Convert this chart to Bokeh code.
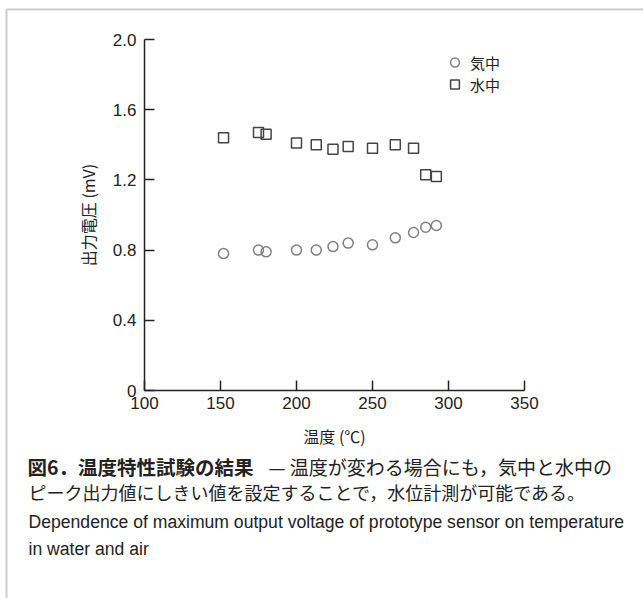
from bokeh.plotting import figure
from bokeh.models import (Range1d, FixedTicker, Legend, LegendItem, Label,
                          BoxAnnotation, PrintfTickFormatter)
from bokeh.embed import file_html
from bokeh.resources import INLINE

# Peak output voltage of the prototype sensor versus temperature
temperature = [152, 175, 180, 200, 213, 224, 234, 250, 265, 277, 285, 292]
voltage_air = [0.78, 0.80, 0.79, 0.80, 0.80, 0.82, 0.84, 0.83, 0.87, 0.90, 0.93, 0.94]
voltage_water = [1.44, 1.47, 1.46, 1.41, 1.40, 1.375, 1.39, 1.38, 1.40, 1.38, 1.23, 1.22]

series_names = ["気中", "水中"]
x_ticks = [100, 150, 200, 250, 300, 350]
y_ticks = [0, 0.4, 0.8, 1.2, 1.6, 2.0]
y_tick_labels = ["0", "0.4", "0.8", "1.2", "1.6", "2.0"]

x_title = "温度 (℃)"
y_title = "出力電圧 (mV)"
caption_bold = "図6．温度特性試験の結果"
caption_rest = "— 温度が変わる場合にも，気中と水中の"
caption_line2 = "ピーク出力値にしきい値を設定することで，水位計測が可能である。"
caption_en1 = "Dependence of maximum output voltage of prototype sensor on temperature"
caption_en2 = "in water and air"

W, H = 643, 598
INK = "#222222"
JP = "Noto Sans CJK JP"
LATIN = "Liberation Sans"

# The drawing area spans the whole page; the axes sit at fixed data
# positions so the caption block below the chart can share the canvas.
X0, X1 = 100, 350          # axis extent (°C)
Y0, Y1 = 0.0, 2.0          # axis extent (mV)
AX_LEFT, AX_RIGHT = 144, 524   # pixel columns of X0 / X1
AX_TOP, AX_BOTTOM = 39, 390    # pixel rows of Y1 / Y0
kx = (X1 - X0) / (AX_RIGHT - AX_LEFT)
ky = (Y1 - Y0) / (AX_BOTTOM - AX_TOP)
x_range = Range1d(X0 - AX_LEFT * kx, X1 + (W - AX_RIGHT) * kx)
y_range = Range1d(Y0 - (H - AX_BOTTOM) * ky, Y1 + AX_TOP * ky)

p = figure(width=W, height=H, x_range=x_range, y_range=y_range,
           output_backend="svg", toolbar_location=None,
           min_border=0, min_border_left=0, min_border_right=0,
           min_border_top=0, min_border_bottom=0)
p.outline_line_color = None
p.grid.visible = False
p.background_fill_color = "white"
p.border_fill_color = "white"

for ax in (p.xaxis[0], p.yaxis[0]):
    ax.major_tick_in = 10
    ax.major_tick_out = 0
    ax.minor_tick_line_color = None
    ax.axis_line_color = INK
    ax.axis_line_width = 1.5
    ax.major_tick_line_color = INK
    ax.major_tick_line_width = 1.5
    ax.major_label_text_font = LATIN
    ax.major_label_text_font_size = "17px"
    ax.major_label_text_color = INK
    ax.axis_label_text_font = JP
    ax.axis_label_text_font_size = "16px"
    ax.axis_label_text_font_style = "normal"
    ax.axis_label_text_color = INK

p.xaxis.fixed_location = Y0
p.xaxis.bounds = (X0, X1)
p.xaxis.ticker = FixedTicker(ticks=x_ticks)
p.xaxis.major_label_standoff = 6
p.xaxis.axis_label = x_title
p.xaxis.axis_label_standoff = 12

p.yaxis.fixed_location = X0
p.yaxis.bounds = (Y0, Y1)
p.yaxis.ticker = FixedTicker(ticks=y_ticks)
p.yaxis.formatter = PrintfTickFormatter(format="%.1f")
p.yaxis.major_label_overrides = dict(zip(y_ticks, y_tick_labels))
p.yaxis.major_label_standoff = 8
p.yaxis.axis_label = y_title
p.yaxis.axis_label_standoff = 10

air = p.scatter(temperature, voltage_air, marker="circle", size=10,
                fill_color=None, line_color="#808080", line_width=1.5)
water = p.scatter(temperature, voltage_water, marker="square", size=10,
                  fill_color=None, line_color="#444444", line_width=1.5)

legend = Legend(items=[LegendItem(label=series_names[0], renderers=[air]),
                       LegendItem(label=series_names[1], renderers=[water])],
                location=(442, H - 51 - 44), orientation="vertical",
                glyph_width=25, glyph_height=22, label_height=22,
                label_standoff=3, spacing=0, padding=0, margin=0,
                border_line_color=None, background_fill_alpha=0,
                label_text_font=JP, label_text_font_size="15px",
                label_text_color=INK)
p.add_layout(legend, "center")

# page frame: top and left rules
p.add_layout(BoxAnnotation(left=6, right=W + 20, bottom=-20, top=H - 9,
                           left_units="screen", right_units="screen",
                           bottom_units="screen", top_units="screen",
                           fill_alpha=0, line_color="#5a5a5a", line_width=2))

def caption(text, x, y, font, size, style="normal", color=INK):
    p.add_layout(Label(x=x, y=H - y, x_units="screen", y_units="screen",
                       text=text, text_font=font, text_font_size=size,
                       text_font_style=style, text_color=color,
                       text_baseline="middle", text_align="left"))

caption(caption_bold, 27, 466, JP, "19.5px", "bold")
caption(caption_rest, 268, 466, JP, "19px")
caption(caption_line2, 28, 491, JP, "18px")
caption(caption_en1, 28, 521, LATIN, "17.6px")
caption(caption_en2, 28, 548, LATIN, "17.6px")

open("out.html", "w").write(file_html(p, INLINE))
